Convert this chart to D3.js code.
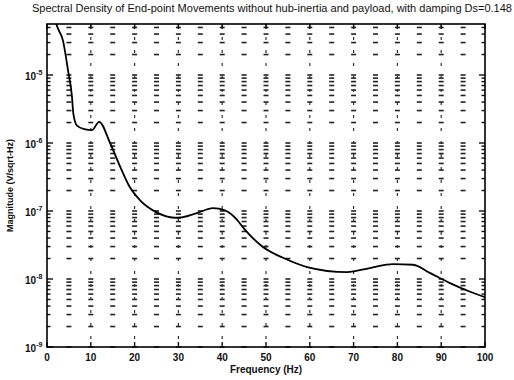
<!DOCTYPE html>
<html>
<head>
<meta charset="utf-8">
<script src="https://cdn.jsdelivr.net/npm/d3@7"></script>
<style>
  body { margin: 0; background: #fff; }
  text { font-family: "Liberation Sans", Arial, sans-serif; fill: #111; }
</style>
</head>
<body>
<svg id="chart" width="514" height="380"></svg>
<script>
// data
const freq = [0.5, 1.5, 2.3, 3.65, 4.8, 5.7, 6.0, 6.85, 8.5, 10.3, 11.9, 14.4, 16.7, 18.9, 21.2, 24.7,
  29.7, 34.2, 37.9, 40.6, 43.4, 44.7, 49.3, 53.9, 59.4, 68.5, 73.7, 79.0, 83.6, 87.4, 92.0, 96.6, 100];
const magnitude = [2.0e-4, 8.0e-5, 5.2e-5, 3.2e-5, 1.17e-5, 4.8e-6, 2.75e-6, 1.8e-6, 1.6e-6, 1.55e-6, 2.05e-6,
  1.0e-6, 4.5e-7, 2.25e-7, 1.45e-7, 9.8e-8, 7.9e-8, 9.3e-8, 1.1e-7, 1.02e-7, 7.4e-8, 5.8e-8, 2.95e-8,
  2.05e-8, 1.5e-8, 1.26e-8, 1.45e-8, 1.66e-8, 1.62e-8, 1.23e-8, 8.7e-9, 6.5e-9, 5.4e-9];
const xTicks = [0, 10, 20, 30, 40, 50, 60, 70, 80, 90, 100];
const yDecades = [-9, -8, -7, -6, -5];
const title = 'Spectral Density of End-point Movements without hub-inertia and payload, with damping Ds=0.148';

const margin = {left: 47, right: 29, top: 24, bottom: 33};
const W = 514, H = 380;

const svg = d3.select('#chart');

const x = d3.scaleLinear().domain([0, 100]).range([margin.left, W - margin.right]);
const y = d3.scaleLog().domain([1e-9, Math.pow(10, -4.25)]).range([H - margin.bottom, margin.top]);

// minor/major log tick values inside domain
const logTicks = [];
yDecades.forEach(e => {
  for (let m = 1; m <= 9; m++) {
    const v = m * Math.pow(10, e);
    if (v >= y.domain()[0] && v <= y.domain()[1]) logTicks.push(v);
  }
});

svg.append('defs').append('clipPath').attr('id', 'clip')
    .append('rect')
    .attr('x', margin.left).attr('y', margin.top)
    .attr('width', W - margin.left - margin.right)
    .attr('height', H - margin.top - margin.bottom);

// horizontal grid (scan turns dotted lines into short dashes every 5 Hz)
const dashCols = d3.range(5, 100, 5);
const hGrid = svg.append('g').attr('stroke', '#222').attr('stroke-width', 1.6);
logTicks.forEach(v => {
  hGrid.selectAll(null)
      .data(dashCols)
      .join('line')
      .attr('x1', d => x(d) - 2.5)
      .attr('x2', d => x(d) + 2.5)
      .attr('y1', y(v))
      .attr('y2', y(v));
});

// vertical grid
svg.append('g')
    .selectAll('line')
    .data(xTicks.slice(1, -1))
    .join('line')
    .attr('x1', d => x(d)).attr('x2', d => x(d))
    .attr('y1', margin.top).attr('y2', H - margin.bottom)
    .attr('stroke', '#333')
    .attr('stroke-width', 1.2)
    .attr('stroke-dasharray', '3,10');

// axes, ticks inward
const gl = svg.append('g').attr('transform', `translate(${margin.left},0)`);
const gr = svg.append('g').attr('transform', `translate(${W - margin.right},0)`);
[[gl, 1], [gr, -1]].forEach(([g, dir]) => {
  g.selectAll('line')
      .data(logTicks)
      .join('line')
      .attr('x1', 0)
      .attr('x2', d => dir * (Math.abs(Math.log10(d) - Math.round(Math.log10(d))) < 1e-6 ? 6 : 3.5))
      .attr('y1', d => y(d)).attr('y2', d => y(d))
      .attr('stroke', '#111').attr('stroke-width', 1.4);
});

const gb = svg.append('g').attr('transform', `translate(0,${H - margin.bottom})`);
const gt = svg.append('g').attr('transform', `translate(0,${margin.top})`);
[[gb, -1], [gt, 1]].forEach(([g, dir]) => {
  g.selectAll('line')
      .data(xTicks)
      .join('line')
      .attr('x1', d => x(d)).attr('x2', d => x(d))
      .attr('y1', 0).attr('y2', dir * 5)
      .attr('stroke', '#111').attr('stroke-width', 1.4);
});

// curve
const line = d3.line()
    .x((d, i) => x(freq[i]))
    .y(d => y(d))
    .curve(d3.curveMonotoneX);

svg.append('path')
    .datum(magnitude)
    .attr('clip-path', 'url(#clip)')
    .attr('d', line)
    .attr('fill', 'none')
    .attr('stroke', '#000')
    .attr('stroke-width', 1.8);

// frame
svg.append('rect')
    .attr('x', margin.left).attr('y', margin.top)
    .attr('width', W - margin.left - margin.right)
    .attr('height', H - margin.top - margin.bottom)
    .attr('fill', 'none')
    .attr('stroke', '#000')
    .attr('stroke-width', 1.6);

// tick labels
svg.append('g')
    .selectAll('text')
    .data(xTicks)
    .join('text')
    .attr('x', d => x(d))
    .attr('y', H - margin.bottom + 14)
    .attr('text-anchor', 'middle')
    .style('font-size', '10px')
    .style('font-weight', 'bold')
    .text(d => d);

const yl = svg.append('g')
    .selectAll('text')
    .data(yDecades)
    .join('text')
    .attr('x', margin.left - 22)
    .attr('y', d => y(Math.pow(10, d)) + 5)
    .style('font-size', '10px')
    .style('font-weight', 'bold');
yl.append('tspan').text('10');
yl.append('tspan').attr('dy', -5).style('font-size', '7px').text(d => '-' + Math.abs(d));

// title and axis labels
svg.append('text')
    .attr('x', 32).attr('y', 12)
    .attr('textLength', 480)
    .attr('lengthAdjust', 'spacingAndGlyphs')
    .style('font-size', '10px')
    .text(title);

svg.append('text')
    .attr('x', x(50)).attr('y', H - 7)
    .attr('text-anchor', 'middle')
    .style('font-size', '10px')
    .style('font-weight', 'bold')
    .text('Frequency (Hz)');

svg.append('text')
    .attr('transform', `translate(13,${(margin.top + H - margin.bottom) / 2}) rotate(-90)`)
    .attr('text-anchor', 'middle')
    .style('font-size', '9px')
    .style('font-weight', 'bold')
    .text('Magnitude (V/sqrt-Hz)');
</script>
</body>
</html>
